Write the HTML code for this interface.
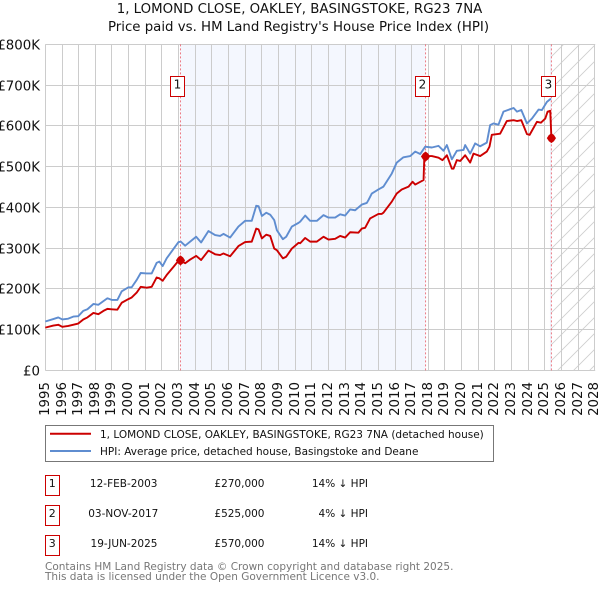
<!DOCTYPE html>
<html lang="en">
<head>
<meta charset="utf-8">
<title>1, LOMOND CLOSE, OAKLEY, BASINGSTOKE, RG23 7NA</title>
<style>
html,body{margin:0;padding:0;background:#fff;width:600px;height:590px;overflow:hidden}
svg{display:block;font-family:"DejaVu Sans","Liberation Sans",sans-serif}
</style>
</head>
<body>
<svg id="chart" xmlns="http://www.w3.org/2000/svg" width="600" height="590" viewBox="0 0 600 590">
<defs>
<pattern id="hatch" patternUnits="userSpaceOnUse" width="16" height="16">
<path d="M-2 18L18 -2M-2 2L2 -2M14 18L18 14" stroke="#cfcfcf" stroke-width="0.9" fill="none"/>
</pattern>
</defs>
<text x="299.5" y="13" font-size="13.33" text-anchor="middle" fill="#111">1, LOMOND CLOSE, OAKLEY, BASINGSTOKE, RG23 7NA</text>
<text x="298.5" y="31" font-size="13.33" text-anchor="middle" fill="#111">Price paid vs. HM Land Registry's House Price Index (HPI)</text>
<g id="plot"></g>
<g>
<rect x="45.5" y="425.5" width="448" height="36" fill="#fff" stroke="#777" stroke-width="1"/>
<line x1="50" x2="91" y1="433.7" y2="433.7" stroke="#cc0000" stroke-width="2"/>
<text x="100" y="438" font-size="10.5" fill="#111">1, LOMOND CLOSE, OAKLEY, BASINGSTOKE, RG23 7NA (detached house)</text>
<line x1="50" x2="91" y1="451" y2="451" stroke="#5f8dd0" stroke-width="2"/>
<text x="100" y="455" font-size="10.5" fill="#111">HPI: Average price, detached house, Basingstoke and Deane</text>
</g>
<g font-size="10.5" fill="#111">
<rect x="45.5" y="475.5" width="14" height="20" fill="#fff" stroke="#cc0000"/>
<text x="52.3" y="487" font-size="11" text-anchor="middle">1</text>
<text x="123.7" y="487" text-anchor="middle">12-FEB-2003</text>
<text x="264.5" y="487" text-anchor="end">£270,000</text>
<text x="368" y="487" text-anchor="end">14% ↓ HPI</text>
<rect x="45.5" y="505.5" width="14" height="20" fill="#fff" stroke="#cc0000"/>
<text x="52.3" y="517" font-size="11" text-anchor="middle">2</text>
<text x="123.3" y="517" text-anchor="middle">03-NOV-2017</text>
<text x="264.5" y="517" text-anchor="end">£525,000</text>
<text x="368" y="517" text-anchor="end">4% ↓ HPI</text>
<rect x="45.5" y="535.5" width="14" height="20" fill="#fff" stroke="#cc0000"/>
<text x="52.3" y="547" font-size="11" text-anchor="middle">3</text>
<text x="124" y="547" text-anchor="middle">19-JUN-2025</text>
<text x="264.5" y="547" text-anchor="end">£570,000</text>
<text x="368" y="547" text-anchor="end">14% ↓ HPI</text>
</g>
<text x="45" y="570" font-size="10.5" fill="#777">Contains HM Land Registry data © Crown copyright and database right 2025.</text>
<text x="45" y="580" font-size="10.5" fill="#777">This data is licensed under the Open Government Licence v3.0.</text>
</svg>
<script>
const yearTicks = [1995,1996,1997,1998,1999,2000,2001,2002,2003,2004,2005,2006,2007,2008,2009,2010,2011,2012,2013,2014,2015,2016,2017,2018,2019,2020,2021,2022,2023,2024,2025,2026,2027,2028];
const valueTicks = [0,100,200,300,400,500,600,700,800];
const valueTickLabels = ['£0','£100K','£200K','£300K','£400K','£500K','£600K','£700K','£800K'];

const hpiDates = [1995.00,1995.48,1995.78,1996.02,1996.38,1996.68,1996.98,1997.28,1997.53,1997.89,1998.19,1998.49,1998.73,1998.99,1999.33,1999.59,1999.99,2000.19,2000.49,2000.73,2001.09,2001.39,2001.69,2001.85,2002.05,2002.29,2002.70,2003.00,2003.14,2003.40,2003.70,2004.06,2004.36,2004.80,2005.20,2005.50,2005.70,2006.10,2006.60,2007.00,2007.40,2007.67,2007.81,2008.01,2008.27,2008.51,2008.75,2008.91,2009.27,2009.47,2009.81,2010.21,2010.31,2010.61,2010.91,2011.31,2011.71,2012.01,2012.41,2012.71,2013.01,2013.31,2013.61,2014.01,2014.31,2014.41,2014.61,2015.01,2015.31,2015.81,2016.11,2016.51,2016.92,2017.22,2017.52,2017.82,2018.22,2018.62,2018.92,2019.12,2019.42,2019.72,2020.12,2020.22,2020.52,2020.82,2021.12,2021.52,2021.72,2021.92,2022.22,2022.52,2022.92,2023.13,2023.33,2023.59,2023.93,2024.23,2024.63,2024.83,2025.13,2025.37];
const hpiValues = [120,126,130,125,127,132,133,146,150,163,161,170,177,173,173,194,204,204,222,239,238,238,264,267,256,275,298,315,316,306,316,328,314,342,332,330,335,326,353,367,367,404,403,379,387,382,369,344,322,328,353,362,365,380,367,367,381,375,375,383,380,395,393,407,411,418,434,444,451,483,510,523,526,537,531,549,547,551,539,553,518,539,541,553,532,557,550,559,602,606,603,635,641,644,635,639,606,618,640,639,659,667];

const paidDates = [1995.00,1995.48,1995.78,1996.02,1996.38,1996.98,1997.28,1997.53,1997.89,1998.19,1998.49,1998.73,1998.99,1999.33,1999.59,1999.99,2000.19,2000.49,2000.73,2001.09,2001.39,2001.69,2001.85,2002.05,2002.29,2002.70,2003.00,2003.12,2003.40,2003.70,2004.06,2004.36,2004.80,2005.20,2005.50,2005.70,2006.10,2006.60,2007.00,2007.40,2007.67,2007.81,2008.01,2008.27,2008.51,2008.75,2008.91,2009.27,2009.47,2009.81,2010.21,2010.31,2010.61,2010.91,2011.31,2011.71,2012.01,2012.41,2012.71,2013.01,2013.31,2013.81,2014.01,2014.21,2014.51,2015.01,2015.21,2015.31,2015.81,2016.11,2016.41,2016.82,2017.06,2017.22,2017.72,2017.76,2017.84,2018.22,2018.62,2018.86,2019.12,2019.42,2019.52,2019.72,2019.92,2020.22,2020.52,2020.72,2021.12,2021.52,2021.68,2021.82,2022.32,2022.72,2023.13,2023.33,2023.59,2023.93,2024.09,2024.53,2024.77,2025.03,2025.17,2025.33,2025.40];
const paidValues = [105,110,112,107,109,115,125,130,141,138,146,151,150,149,166,175,179,191,205,203,205,228,226,220,234,254,269,270,263,272,281,271,294,285,283,287,280,305,315,316,348,346,324,333,330,299,295,275,279,299,313,312,325,316,316,328,321,323,330,326,339,338,348,350,373,384,384,387,414,434,444,451,463,456,467,516,526,526,522,516,528,495,495,516,514,528,510,532,526,537,549,578,581,612,614,612,614,580,578,610,608,618,635,637,570];

const saleNumbers = ['1','2','3'];
const saleDates = [2003.12,2017.84,2025.40];
const salePrices = [270,525,570];

const SVG_NS = 'http://www.w3.org/2000/svg';
const plot = document.getElementById('plot');
const X0 = 45.3, X1 = 594.7, Y0 = 370.4, Y800 = 44.4;
const xMin = yearTicks[0], xMax = yearTicks[yearTicks.length - 1];
function xScale(year){ return X0 + (year - xMin) * (X1 - X0) / (xMax - xMin); }
function yScale(value){ return Y0 - value * (Y0 - Y800) / 800; }
function snap(v){ return Math.floor(v + 0.1) + 0.5; }
function make(tag, parent){
  const el = document.createElementNS(SVG_NS, tag);
  (parent || plot).appendChild(el);
  return el;
}
function setAll(el, attrs){ for (const k in attrs) el.setAttribute(k, attrs[k]); }
function pathFrom(dates, values){
  return dates.map(function(d, i){ return (i ? 'L' : 'M') + xScale(d).toFixed(2) + ' ' + yScale(values[i]).toFixed(2); }).join('');
}

/* shaded regions */
const bandOne = make('rect');


setAll(bandOne, {x: xScale(saleDates[0]), y: Y800, width: xScale(saleDates[1]) - xScale(saleDates[0]), height: Y0 - Y800, fill: '#f4f7fe'});

const bandTwo = make('rect');


setAll(bandTwo, {x: xScale(saleDates[2]) - 1.5, y: Y800, width: 1.5, height: Y0 - Y800, fill: '#eef3fd'});

const hatch = make('rect');


setAll(hatch, {x: xScale(saleDates[2]), y: Y800, width: X1 - xScale(saleDates[2]), height: Y0 - Y800, fill: 'url(#hatch)'});

/* grid lines and ticks */
valueTicks.forEach(function(v, i){
  const y = Math.round(yScale(v) - 0.5) + 0.5;
  const g = make('line');
  
  
  setAll(g, {x1: X0, x2: X1 + 0.5, y1: y, y2: y, stroke: '#cccccc', 'stroke-width': 1});
  const t = make('text');
  
  
  setAll(t, {x: 40, y: y + 4.8, 'font-size': 13.33, 'text-anchor': 'end', fill: '#111'});
  t.textContent = valueTickLabels[i];
});
yearTicks.forEach(function(year){
  const x = snap(xScale(year));
  const g = make('line');
  
  
  setAll(g, {x1: x, x2: x, y1: Y800, y2: Y0, stroke: '#cccccc', 'stroke-width': 1});
  const t = make('text');
  
  
  setAll(t, {'font-size': 13.33, 'text-anchor': 'end', fill: '#111', transform: 'translate(' + (x + 3.5) + ' 382) rotate(-90)'});
  t.textContent = String(year);
});

/* sale date marker lines */
saleDates.forEach(function(d){
  const x = xScale(d);
  const l = make('line');
  
  
  setAll(l, {x1: x, x2: x, y1: Y800, y2: Y0, stroke: '#e8505b', 'stroke-width': 1, 'stroke-dasharray': '2 2', opacity: 0.75});
});

/* series */
const hpiLine = make('path');


setAll(hpiLine, {d: pathFrom(hpiDates, hpiValues), fill: 'none', stroke: '#5f8dd0', 'stroke-width': 1.9, 'stroke-linejoin': 'round'});

const paidLine = make('path');


setAll(paidLine, {d: pathFrom(paidDates, paidValues), fill: 'none', stroke: '#cc0000', 'stroke-width': 1.9, 'stroke-linejoin': 'round'});

/* sale markers and number badges */
saleDates.forEach(function(d, i){
  const x = xScale(d), y = yScale(salePrices[i]);
  const m = make('polygon');
  
  
  setAll(m, {points: [x-4.6,y, x-2.6,y-3, x,y-5, x+2.6,y-3, x+4.6,y, x+2.6,y+3, x,y+5, x-2.6,y+3].join(' '), fill: '#cc0000'});

  const bx = Math.floor(x) - 9.5;
  const b = make('rect');
  
  
  setAll(b, {x: bx, y: 76.5, width: 14, height: 20, fill: '#fff', stroke: '#cc0000', 'stroke-width': 1});
  const n = make('text');
  
  
  setAll(n, {x: bx + 7, y: 88.5, 'font-size': 12, 'text-anchor': 'middle', fill: '#111'});
  n.textContent = saleNumbers[i];
});
</script>
</body>
</html>
